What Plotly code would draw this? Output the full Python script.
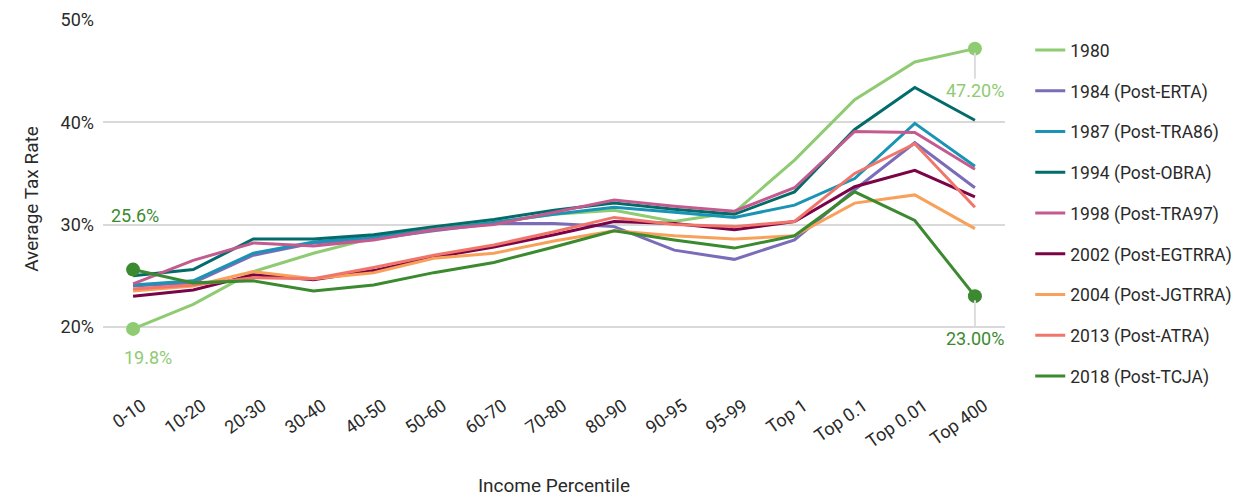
import plotly.graph_objects as go

categories = ["0-10", "10-20", "20-30", "30-40", "40-50", "50-60", "60-70", "70-80",
              "80-90", "90-95", "95-99", "Top 1", "Top 0.1", "Top 0.01", "Top 400"]

series_names = ["1980", "1984 (Post-ERTA)", "1987 (Post-TRA86)", "1994 (Post-OBRA)",
                "1998 (Post-TRA97)", "2002 (Post-EGTRRA)", "2004 (Post-JGTRRA)",
                "2013 (Post-ATRA)", "2018 (Post-TCJA)"]

v1980 = [19.8, 22.2, 25.4, 27.2, 28.7, 29.6, 30.2, 31.0, 31.4, 30.3, 31.2, 36.3, 42.2, 45.9, 47.2]
v1984 = [24.0, 24.3, 27.0, 28.2, 28.6, 29.4, 30.1, 30.1, 29.8, 27.5, 26.6, 28.5, 33.4, 38.0, 33.6]
v1987 = [24.1, 24.5, 27.2, 28.3, 28.8, 29.5, 30.2, 31.0, 31.7, 31.2, 30.7, 31.9, 34.5, 39.9, 35.7]
v1994 = [25.0, 25.6, 28.6, 28.6, 29.0, 29.8, 30.5, 31.4, 32.1, 31.5, 31.0, 33.2, 39.3, 43.4, 40.2]
v1998 = [24.2, 26.5, 28.2, 27.9, 28.5, 29.5, 30.0, 31.2, 32.4, 31.8, 31.3, 33.6, 39.1, 39.0, 35.4]
v2002 = [23.0, 23.6, 25.1, 24.6, 25.5, 26.8, 27.8, 29.0, 30.3, 30.1, 29.5, 30.3, 33.7, 35.3, 32.7]
v2004 = [23.5, 24.0, 25.4, 24.7, 25.3, 26.7, 27.2, 28.4, 29.4, 28.9, 28.6, 28.9, 32.1, 32.9, 29.6]
v2013 = [23.7, 24.1, 24.8, 24.7, 25.8, 27.0, 28.0, 29.3, 30.7, 30.0, 29.8, 30.3, 35.0, 37.9, 31.7]
v2018 = [25.6, 24.3, 24.5, 23.5, 24.1, 25.3, 26.3, 27.8, 29.4, 28.5, 27.7, 28.9, 33.2, 30.4, 23.0]

all_values = [v1980, v1984, v1987, v1994, v1998, v2002, v2004, v2013, v2018]
colors = ["#8ecb72", "#7a6cb8", "#1a94b4", "#046b6b", "#c45b8e",
          "#7a0445", "#f7a15a", "#f0766b", "#3b8a2f"]

fig = go.Figure()
for i, (name, vals, col) in enumerate(zip(series_names, all_values, colors)):
    fig.add_trace(go.Scatter(
        x=categories, y=vals, name=name, mode="lines",
        line=dict(color=col, width=3), legendgroup=f"g{i}",
    ))

# endpoint markers for 1980 and 2018
for vals, col in [(v1980, colors[0]), (v2018, colors[8])]:
    fig.add_trace(go.Scatter(
        x=[categories[0], categories[-1]], y=[vals[0], vals[-1]], mode="markers",
        marker=dict(color=col, size=14), showlegend=False, hoverinfo="skip",
    ))

fnt = "Roboto, sans-serif"
txt = "#2a2a2a"
# left labels
fig.add_annotation(x=categories[0], y=v2018[0], text=f"{v2018[0]:.1f}%", showarrow=False,
                   yshift=54, xshift=2, font=dict(color=colors[8], size=18, family=fnt))
fig.add_annotation(x=categories[0], y=v1980[0], text=f"{v1980[0]:.1f}%", showarrow=False,
                   yshift=-29, xshift=15, font=dict(color=colors[0], size=18, family=fnt))
# right labels with leader lines
fig.add_annotation(x=categories[-1], y=v1980[-1], text=f"{v1980[-1]:.2f}%", showarrow=True,
                   arrowhead=0, arrowcolor="#dddddd", arrowwidth=2, ax=0, ay=42, standoff=4,
                   font=dict(color=colors[0], size=18, family=fnt))
fig.add_annotation(x=categories[-1], y=v2018[-1], text=f"{v2018[-1]:.2f}%", showarrow=True,
                   arrowhead=0, arrowcolor="#dddddd", arrowwidth=2, ax=0, ay=42, standoff=4,
                   font=dict(color=colors[8], size=18, family=fnt))

fig.update_layout(
    width=1249, height=489,
    margin=dict(l=95, r=252, t=12, b=119),
    plot_bgcolor="white", paper_bgcolor="white",
    font=dict(family=fnt, size=17, color=txt),
    showlegend=True,
    legend=dict(x=1.028, y=0.966, xanchor="left", yanchor="top",
                font=dict(size=17.5, color=txt), tracegroupgap=15,
                itemwidth=30, bgcolor="rgba(0,0,0,0)", maxheight=470),
    xaxis=dict(
        type="category", range=[-0.5, 14.5], tickangle=-35, automargin=False,
        showgrid=False, zeroline=False, showline=False, ticks="",
        ticklabelshift=9, ticklabelstandoff=13,
        tickfont=dict(size=18, color=txt),
        title=dict(text="Income Percentile", font=dict(size=19, color=txt), standoff=45),
    ),
    yaxis=dict(
        range=[15, 50], tickvals=[20, 30, 40, 50], ticktext=["20%", "30%", "40%", "50%"],
        automargin=False, ticklabelstandoff=8,
        showgrid=True, gridcolor="#d9d9d9", gridwidth=1.5, zeroline=False, showline=False,
        ticks="", tickfont=dict(size=18, color=txt),
        title=dict(text="Average Tax Rate", font=dict(size=19, color=txt), standoff=16),
    ),
)

fig.write_html("out.html")
